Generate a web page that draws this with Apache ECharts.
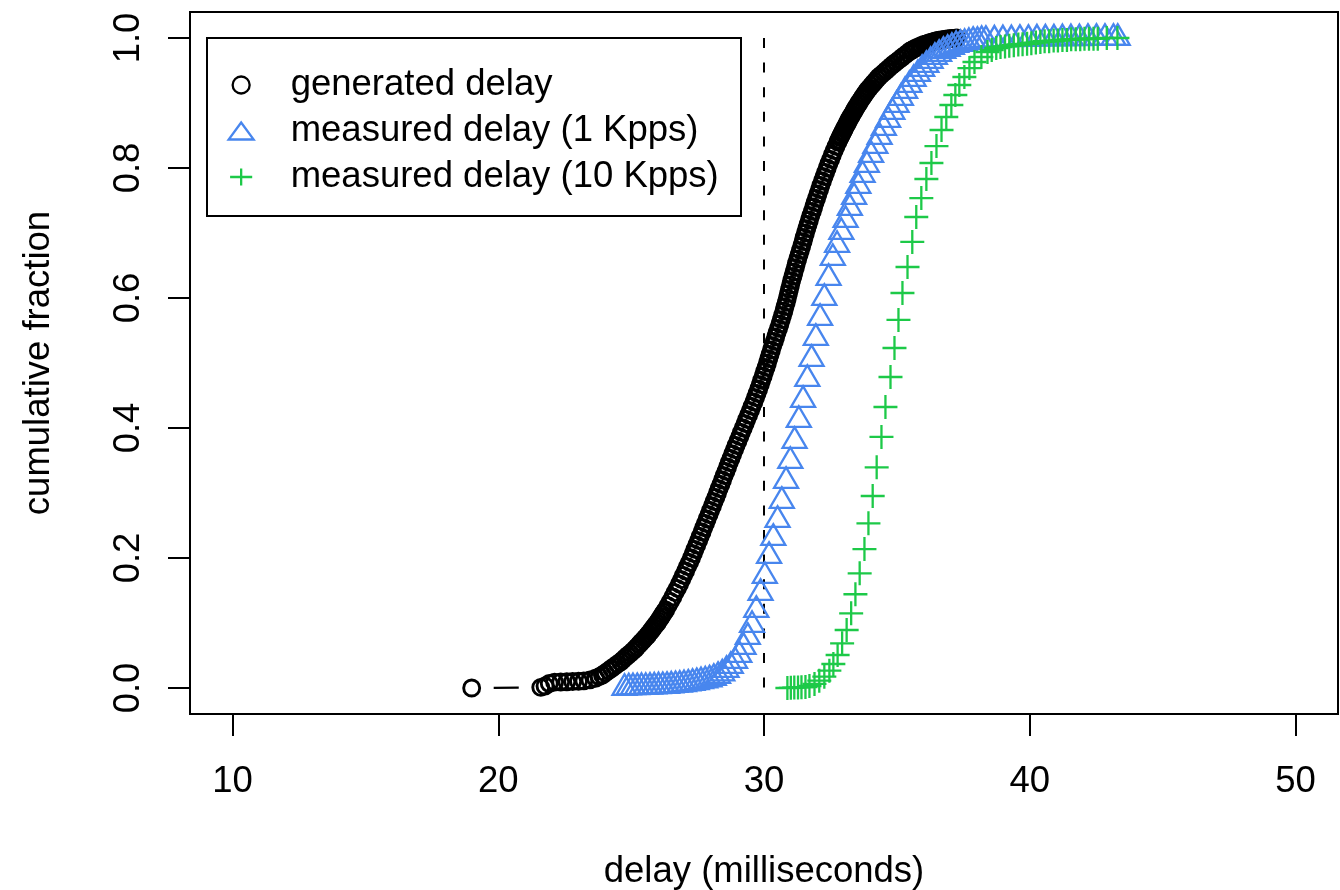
<!DOCTYPE html>
<html>
<head>
<meta charset="utf-8">
<title>delay CDF</title>
<script src="https://cdn.jsdelivr.net/npm/echarts@6/dist/echarts.min.js"></script>
<style>
  html, body { margin: 0; padding: 0; background: #fff; }
  #chart { width: 1340px; height: 890px; }
</style>
</head>
<body>
<div id="chart"></div>
<script>
// axis ticks
const xTicks = [10, 20, 30, 40, 50]
const yTicks = [0, 0.2, 0.4, 0.6, 0.8, 1.0]

// generated delay (ms) and cumulative fraction
const genDelay = [
  19.00, 21.60, 21.76, 21.92, 22.12, 22.35, 22.58, 22.80, 23.02, 23.22, 23.45, 23.66, 23.80,
  23.92, 24.03, 24.15, 24.26, 24.37, 24.48, 24.60, 24.69, 24.78, 24.87, 24.97, 25.06,
  25.15, 25.22, 25.30, 25.37, 25.45, 25.52, 25.60, 25.66, 25.73, 25.79, 25.85, 25.91,
  25.98, 26.03, 26.09, 26.14, 26.19, 26.24,
  26.30, 26.39, 26.48, 26.57, 26.65, 26.74, 26.82, 26.90, 26.97,
  27.05, 27.12, 27.20, 27.27, 27.34, 27.40, 27.47, 27.54, 27.60, 27.67, 27.73, 27.80,
  27.86, 27.93, 27.99, 28.06, 28.12, 28.19, 28.25, 28.31, 28.38, 28.44, 28.50, 28.57,
  28.63, 28.69, 28.76, 28.82, 28.89, 28.95, 29.02, 29.09, 29.15, 29.22, 29.29, 29.35,
  29.42, 29.49, 29.55, 29.62, 29.68, 29.74, 29.80, 29.86, 29.91, 29.97, 30.02, 30.08,
  30.13, 30.18, 30.23, 30.28, 30.33, 30.39, 30.44, 30.49, 30.55, 30.60, 30.65, 30.70,
  30.75, 30.79, 30.84, 30.88, 30.92, 30.96, 31.00, 31.04, 31.09, 31.13, 31.18, 31.22,
  31.27, 31.32, 31.37, 31.42, 31.47, 31.51, 31.56, 31.61, 31.66, 31.71, 31.76, 31.82,
  31.87, 31.92, 31.98, 32.03, 32.09, 32.14, 32.20, 32.26, 32.32, 32.38, 32.44, 32.51,
  32.57, 32.64, 32.71,
  32.78, 32.82, 32.86, 32.90, 32.94, 32.98, 33.02, 33.06, 33.11, 33.15,
  33.19, 33.23, 33.28, 33.33, 33.38, 33.42, 33.47, 33.52, 33.57, 33.62,
  33.68, 33.73, 33.79, 33.84, 33.90, 33.97, 34.04, 34.11, 34.18, 34.25,
  34.32, 34.41, 34.51, 34.60, 34.69, 34.78, 34.88, 34.98, 35.09, 35.19,
  35.29, 35.40, 35.50, 35.59, 35.68, 35.76, 35.85, 35.93, 36.02, 36.10,
  36.18, 36.26, 36.34, 36.42, 36.50, 36.58, 36.66, 36.74, 36.82, 36.90,
  36.98, 37.05, 37.12, 37.19, 37.26
]
const genFrac = [
  0, 0.001, 0.003, 0.007, 0.009, 0.0093, 0.0096, 0.0099, 0.0103, 0.011, 0.0125, 0.015, 0.0175,
  0.0200, 0.0233, 0.0267, 0.0300, 0.0333, 0.0367, 0.0400, 0.0433, 0.0467, 0.0500, 0.0533, 0.0567,
  0.0600, 0.0633, 0.0667, 0.0700, 0.0733, 0.0767, 0.0800, 0.0833, 0.0867, 0.0900, 0.0933, 0.0967,
  0.1000, 0.1033, 0.1067, 0.1100, 0.1133, 0.1167,
  0.1200, 0.1267, 0.1333, 0.1400, 0.1467, 0.1533, 0.1600, 0.1667, 0.1733,
  0.1800, 0.1867, 0.1933, 0.2000, 0.2067, 0.2133, 0.2200, 0.2267, 0.2333, 0.2400, 0.2467, 0.2533,
  0.2600, 0.2667, 0.2733, 0.2800, 0.2867, 0.2933, 0.3000, 0.3067, 0.3133, 0.3200, 0.3267, 0.3333,
  0.3400, 0.3467, 0.3533, 0.3600, 0.3667, 0.3733, 0.3800, 0.3867, 0.3933, 0.4000, 0.4067, 0.4133,
  0.4200, 0.4267, 0.4333, 0.4400, 0.4467, 0.4533, 0.4600, 0.4667, 0.4733, 0.4800, 0.4867, 0.4933,
  0.5000, 0.5067, 0.5133, 0.5200, 0.5267, 0.5333, 0.5400, 0.5467, 0.5533, 0.5600, 0.5667, 0.5733,
  0.5800, 0.5867, 0.5933, 0.6000, 0.6067, 0.6133, 0.6200, 0.6267, 0.6333, 0.6400, 0.6467, 0.6533,
  0.6600, 0.6667, 0.6733, 0.6800, 0.6867, 0.6933, 0.7000, 0.7067, 0.7133, 0.7200, 0.7267, 0.7333,
  0.7400, 0.7467, 0.7533, 0.7600, 0.7667, 0.7733, 0.7800, 0.7867, 0.7933, 0.8000, 0.8067, 0.8133,
  0.8200, 0.8267, 0.8333,
  0.8400, 0.8433, 0.8467, 0.8500, 0.8533, 0.8567, 0.8600, 0.8633, 0.8667, 0.8700,
  0.8733, 0.8767, 0.8800, 0.8833, 0.8867, 0.8900, 0.8933, 0.8967, 0.9000, 0.9033,
  0.9067, 0.9100, 0.9133, 0.9167, 0.9200, 0.9233, 0.9267, 0.9300, 0.9333, 0.9367,
  0.9400, 0.9433, 0.9467, 0.9500, 0.9533, 0.9567, 0.9600, 0.9633, 0.9667, 0.9700,
  0.9733, 0.9767, 0.9800, 0.9820, 0.9840, 0.9855, 0.9870, 0.9885, 0.9900, 0.9910,
  0.9920, 0.9930, 0.9940, 0.9950, 0.9960, 0.9965, 0.9970, 0.9975, 0.9980, 0.9985,
  0.9990, 0.9992, 0.9995, 0.9998, 1
]

// measured delay at 1 Kpps
const k1Delay = [
  24.75, 24.91, 25.07, 25.23, 25.39, 25.55, 25.71, 25.87, 26.03, 26.19,
  26.35, 26.51, 26.67, 26.83, 26.99, 27.15, 27.31, 27.47, 27.63, 27.79,
  27.95, 28.11, 28.27, 28.43, 28.59, 28.75, 28.91, 29.07, 29.23, 29.39,
  29.55, 29.71, 29.87, 30.03, 30.19, 30.35, 30.51, 30.67, 30.83, 30.99,
  31.15, 31.31, 31.47, 31.63, 31.79, 31.95, 32.11, 32.27, 32.43, 32.59,
  32.75, 32.91, 33.07, 33.23, 33.39, 33.55, 33.71, 33.87, 34.03, 34.19,
  34.35, 34.51, 34.67, 34.83, 34.99, 35.15, 35.31, 35.47, 35.63, 35.79,
  35.95, 36.11, 36.27, 36.43, 36.59, 36.75, 36.91, 37.07, 37.23, 37.39,
  37.55, 37.71, 37.87, 38.03, 38.19, 38.35,
  38.67, 38.99, 39.31, 39.63, 39.95, 40.27, 40.59, 40.91, 41.23, 41.55,
  41.87, 42.19, 42.51, 42.83, 43.15, 43.31
]
const k1Frac = [
  0, 0.0008, 0.0011, 0.0012, 0.0015, 0.0015, 0.0018, 0.0022, 0.0025, 0.0028,
  0.0031, 0.0037, 0.0043, 0.0049, 0.0057, 0.0066, 0.0077, 0.0089, 0.0103, 0.0115,
  0.0131, 0.0154, 0.0185, 0.0223, 0.0277, 0.0338, 0.0415, 0.0508, 0.0631, 0.0785,
  0.0969, 0.1200, 0.1462, 0.1723, 0.2031, 0.2308, 0.2585, 0.2877, 0.3185, 0.3492,
  0.3800, 0.4123, 0.4431, 0.4754, 0.5062, 0.5385, 0.5692, 0.6000, 0.6308, 0.6615,
  0.6815, 0.7015, 0.7200, 0.7385, 0.7554, 0.7723, 0.7892, 0.8046, 0.8200, 0.8338,
  0.8477, 0.8615, 0.8738, 0.8862, 0.8969, 0.9077, 0.9185, 0.9277, 0.9369, 0.9446,
  0.9523, 0.9585, 0.9646, 0.9708, 0.9754, 0.9800, 0.9831, 0.9862, 0.9892, 0.9908,
  0.9923, 0.9938, 0.9954, 0.9954, 0.9969, 0.9970,
  0.9975, 0.9980, 0.9980, 0.9985, 0.9985, 0.9990, 0.9990, 0.9990, 0.9995, 0.9995,
  0.9995, 1, 1, 1, 1, 1
]

// measured delay at 10 Kpps
const k10Delay = [
  30.88, 31.01, 31.14, 31.28, 31.41, 31.56, 31.71, 31.90, 32.08, 32.27,
  32.46, 32.61, 32.77, 32.94, 33.11, 33.28, 33.44, 33.60, 33.78, 33.93,
  34.09, 34.24, 34.42, 34.57, 34.76, 34.91, 35.06, 35.21, 35.40, 35.58,
  35.73, 35.92, 36.11, 36.30, 36.49, 36.68, 36.86, 37.05, 37.20, 37.35,
  37.54, 37.73, 37.92, 38.18, 38.41, 38.57, 38.74, 38.90, 39.07, 39.23,
  39.40, 39.57, 39.73, 39.90, 40.06, 40.23, 40.40, 40.56, 40.73, 40.90,
  41.06, 41.23, 41.40, 41.56, 41.73, 41.90, 42.06, 42.23, 42.40, 42.56,
  42.90, 43.30
]
const k10Frac = [
  0, 0.0003, 0.0006, 0.0009, 0.0012, 0.0015, 0.0031, 0.0062, 0.0112, 0.0174,
  0.0266, 0.0369, 0.0508, 0.0688, 0.0892, 0.1149, 0.1442, 0.1765, 0.2138, 0.2534,
  0.2954, 0.3395, 0.3862, 0.4323, 0.4785, 0.5231, 0.5662, 0.6077, 0.6477, 0.6862,
  0.7246, 0.7538, 0.7831, 0.8077, 0.8338, 0.8585, 0.8785, 0.8969, 0.9123, 0.9277,
  0.9400, 0.9538, 0.9631, 0.9708, 0.9785, 0.9815, 0.9846, 0.9860, 0.9870, 0.9880,
  0.9890, 0.9900, 0.9905, 0.9910, 0.9920, 0.9930, 0.9940, 0.9950, 0.9950, 0.9960,
  0.9960, 0.9970, 0.9970, 0.9980, 0.9980, 0.9980, 0.9990, 0.9990, 0.9990, 0.9990,
  1, 1
]

// dashed reference line (drawn top to bottom)
const refX = [30, 30]
const refY = [1, 0]

const names = ["generated delay", "measured delay (1 Kpps)", "measured delay (10 Kpps)"]
const colors = ["#000000", "#4886ee", "#1dc948"]

const FONT = "'Liberation Sans', Arial, Helvetica, sans-serif"
const GAP = 22 // gap round each point for R's type = "b" connectors

const pairs = (xs, ys) => xs.map((x, i) => [x, ys[i]])
const steps = (xs, ys) => xs.slice(1).map((x, i) => [xs[i], ys[i], x, ys[i + 1]])

// line pieces between points, cut back at both ends like plot(type = "b")
const gapped = color => (params, api) => {
  const a = api.coord([api.value(0), api.value(1)])
  const b = api.coord([api.value(2), api.value(3)])
  const dx = b[0] - a[0]
  const dy = b[1] - a[1]
  const len = Math.hypot(dx, dy)
  if (len <= 2 * GAP) return null
  const ux = dx / len
  const uy = dy / len
  return {
    type: "line",
    shape: { x1: a[0] + ux * GAP, y1: a[1] + uy * GAP, x2: b[0] - ux * GAP, y2: b[1] - uy * GAP },
    style: { stroke: color, lineWidth: 2.3 }
  }
}

const connector = (name, xs, ys, color) => ({
  name: name,
  type: "custom",
  renderItem: gapped(color),
  encode: { x: [0, 2], y: [1, 3] },
  data: steps(xs, ys),
  silent: true,
  z: 3
})

const chart = echarts.init(document.getElementById("chart"))
chart.setOption({
  animation: false,
  backgroundColor: "#fff",
  textStyle: { fontFamily: FONT },
  grid: {
    left: 190, right: 2, top: 12, bottom: 176,
    outerBoundsMode: "none",
    containLabel: false,
    show: true, borderColor: "#000", borderWidth: 2, backgroundColor: "transparent"
  },
  xAxis: {
    type: "value",
    min: 8.4,
    max: 51.6,
    name: "delay (milliseconds)",
    nameLocation: "middle",
    nameGap: 138,
    nameTextStyle: { fontSize: 36.5, color: "#000", fontFamily: FONT, lineHeight: 40 },
    axisLine: { show: false, onZero: false },
    axisTick: { show: true, length: 22, customValues: xTicks, lineStyle: { color: "#000", width: 2 } },
    axisLabel: {
      customValues: xTicks, margin: 48, fontSize: 36.5, color: "#000", fontFamily: FONT, lineHeight: 40
    },
    splitLine: { show: false }
  },
  yAxis: {
    type: "value",
    min: -0.04,
    max: 1.04,
    name: "cumulative fraction",
    nameLocation: "middle",
    nameRotate: 90,
    nameGap: 131,
    nameTextStyle: { fontSize: 36.5, color: "#000", fontFamily: FONT, lineHeight: 40 },
    axisLine: { show: false, onZero: false },
    axisTick: { show: true, length: 22, customValues: yTicks, lineStyle: { color: "#000", width: 2 } },
    axisLabel: {
      customValues: yTicks, rotate: 90, margin: 41, fontSize: 36.5, color: "#000",
      fontFamily: FONT, lineHeight: 40,
      formatter: v => v.toFixed(1)
    },
    splitLine: { show: false }
  },
  legend: {
    orient: "vertical",
    left: 227.5,
    top: 65,
    padding: 0,
    itemWidth: 25,
    itemHeight: 17,
    itemGap: 6,
    selectedMode: false,
    itemStyle: { borderWidth: 2.3 },
    textStyle: { fontSize: 36.5, color: "#000", fontFamily: FONT, lineHeight: 40, padding: [0, 0, 0, 32] },
    data: [
      { name: names[0] },
      { name: names[1] },
      { name: names[2], icon: "path://M0,10H26M13,0V20" }
    ]
  },
  graphic: [{
    type: "rect",
    shape: { x: 207, y: 38, width: 534, height: 178 },
    style: { fill: "transparent", stroke: "#000", lineWidth: 2 },
    z: 10
  }],
  series: [
    {
      name: "ref",
      type: "line",
      data: pairs(refX, refY),
      symbol: "none",
      silent: true,
      lineStyle: { color: "#000", width: 2, type: [10, 14.6] },
      z: 1
    },
    connector("c0", genDelay, genFrac, colors[0]),
    connector("c1", k1Delay, k1Frac, colors[1]),
    connector("c2", k10Delay, k10Frac, colors[2]),
    {
      name: names[0],
      type: "scatter",
      data: pairs(genDelay, genFrac),
      symbol: "circle",
      symbolSize: 16,
      itemStyle: { color: "transparent", borderColor: colors[0], borderWidth: 2.9, opacity: 1 },
      z: 4
    },
    {
      name: names[1],
      type: "scatter",
      data: pairs(k1Delay, k1Frac),
      symbol: "triangle",
      symbolSize: [24, 20.5],
      symbolOffset: [0, -3.4],
      itemStyle: { color: "transparent", borderColor: colors[1], borderWidth: 2.3, opacity: 1 },
      z: 5
    },
    {
      name: names[2],
      type: "scatter",
      data: pairs(k10Delay, k10Frac),
      symbol: "path://M0,12H24M12,0V24",
      symbolSize: 24,
      itemStyle: { color: "transparent", borderColor: colors[2], borderWidth: 2.3, opacity: 1 },
      z: 6
    }
  ]
})
</script>
</body>
</html>
